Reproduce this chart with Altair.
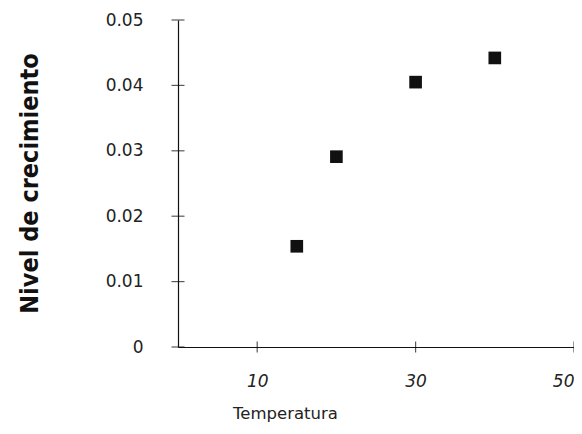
import altair as alt
import pandas as pd

temperatura = [15, 20, 30, 40]
nivel = [0.0154, 0.0291, 0.0405, 0.0442]
y_ticks = [0, 0.01, 0.02, 0.03, 0.04, 0.05]
x_ticks = [10, 30, 50]

pts = pd.DataFrame({"Temperatura": temperatura, "Nivel": nivel})
yt = pd.DataFrame({"Temperatura": [0] * len(y_ticks), "Nivel": y_ticks})
xt = pd.DataFrame({"Temperatura": x_ticks, "Nivel": [0] * len(x_ticks)})

X = alt.X(
    "Temperatura:Q",
    scale=alt.Scale(domain=[0, 50], nice=False, zero=True),
    axis=alt.Axis(
        title="Temperatura",
        values=x_ticks,
        grid=False,
        ticks=False,
        domainColor="#111",
        domainWidth=1.2,
        labelFont="DejaVu Sans",
        labelFontStyle="italic",
        labelFontSize=17,
        labelColor="#222",
        labelBaseline="top",
        labelPadding=26,
        labelFlush=True,
        titleFont="DejaVu Sans",
        titleFontSize=16.5,
        titleFontWeight="normal",
        titleColor="#222",
        titleX=107,
        titleY=71,
        titleAlign="center",
        titleBaseline="alphabetic",
    ),
)
Y = alt.Y(
    "Nivel:Q",
    scale=alt.Scale(domain=[0, 0.05], nice=False, zero=True),
    axis=alt.Axis(
        title="Nivel de crecimiento",
        values=y_ticks,
        grid=False,
        ticks=False,
        domainColor="#111",
        domainWidth=1.2,
        labelExpr="datum.value == 0 ? '0' : format(datum.value, '.2f')",
        labelFont="DejaVu Sans",
        labelFontSize=17,
        labelColor="#222",
        labelPadding=35,
        labelFlush=False,
        titleFont="DejaVu Sans Condensed, Liberation Sans Narrow, DejaVu Sans, sans-serif",
        titleFontSize=25,
        titleFontWeight="bold",
        titleColor="#111",
        titleAngle=270,
        titleX=-149,
        titleY=163,
        titleAlign="center",
        titleBaseline="middle",
    ),
)

points = alt.Chart(pts).mark_point(
    shape="square", filled=True, size=160, color="#111", opacity=1
).encode(x=X, y=Y)

ytick_layer = alt.Chart(yt).mark_tick(
    orient="horizontal", size=13, thickness=1.2, color="#111"
).encode(x=X, y=Y)

xtick_layer = alt.Chart(xt).mark_tick(
    orient="vertical", size=11, thickness=1.2, color="#111"
).encode(x=X, y=Y)

chart = alt.layer(ytick_layer, xtick_layer, points).properties(
    width=396,
    height=327,
    autosize=alt.AutoSizeParams(type="none"),
    padding={"left": 170, "top": 12, "right": 0, "bottom": 75},
    background="white",
).configure_view(stroke=None)

chart.save("out.html", embed_options={"renderer": "svg", "actions": False})
